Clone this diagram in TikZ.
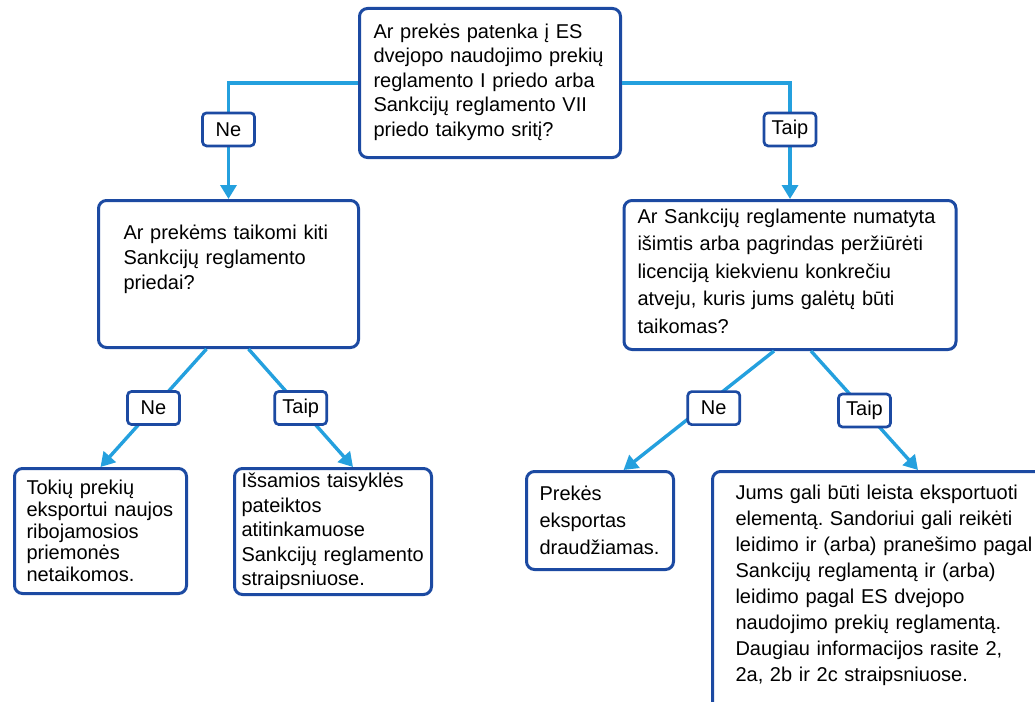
\documentclass[tikz,border=0pt]{standalone}
\usepackage{fontspec}
\setmainfont{Liberation Sans}
\frenchspacing
\usetikzlibrary{arrows.meta}
\definecolor{boxblue}{RGB}{28,74,162}
\definecolor{linkblue}{RGB}{36,160,222}
\tikzset{box/.style={draw=boxblue, line width=3pt, rounded corners=8pt, align=left, anchor=north west}}
\tikzset{bs/.style={font=\fontsize{20}{#1}\selectfont}}
\tikzset{ans/.style={draw=boxblue, line width=2.7pt, rounded corners=4pt, fill=white, minimum width=52pt, minimum height=33pt, inner sep=2pt, font=\fontsize{20}{24}\selectfont}}
\tikzset{link/.style={draw=linkblue, line width=3.4pt}}

\begin{document}
\begin{tikzpicture}[x=1pt, y=-1pt, >={Triangle[length=14pt,width=16pt]}]
          \useasboundingbox (0,0) rectangle (1035,701);
          \clip (0,0) rectangle (1035,701);
          % questions
          \node[box, bs=24.5, text width=233pt, inner xsep=14pt, minimum height=149pt, text depth=104pt] (root) at (358,7)
            {Ar prekės patenka į ES\\ dvejopo naudojimo prekių\\ reglamento I priedo arba\\ Sankcijų reglamento VII\\ priedo taikymo sritį?};
          \node[box, bs=25, text width=210pt, inner xsep=25pt, minimum height=147pt, text depth=84pt] (lq) at (97,199)
            {Ar prekėms taikomi kiti\\ Sankcijų reglamento\\ priedai?};
          \node[box, bs=27.5, text width=305pt, inner xsep=13.5pt, minimum height=149pt, text depth=118pt] (rq) at (622.5,199)
            {Ar Sankcijų reglamente numatyta\\ išimtis arba pagrindas peržiūrėti\\ licenciją kiekvienu konkrečiu\\ atveju, kuris jums galėtų būti\\ taikomas?};
          % outcomes
          \node[box, bs=21.7, text width=148pt, inner xsep=12pt, minimum height=125pt] (leaf1) at (13,467)
            {Tokių prekių\\ eksportui naujos\\ ribojamosios\\ priemonės\\ netaikomos.};
          \node[box, bs=24.6, text width=183pt, inner xsep=7pt, minimum height=126pt] (leaf2) at (233,467)
            {Išsamios taisyklės\\ pateiktos\\ atitinkamuose\\ Sankcijų reglamento\\ straipsniuose.};
          \node[box, bs=26.7, text width=121pt, inner xsep=13pt, minimum height=98pt] (leaf3) at (525,470)
            {Prekės\\ eksportas\\ draudžiamas.};
          \node[box, bs=26, text width=313pt, inner xsep=23pt, minimum height=250pt, text depth=208pt] (leaf4) at (711,470)
            {Jums gali būti leista eksportuoti\\ elementą. Sandoriui gali reikėti\\ leidimo ir (arba) pranešimo pagal\\ Sankcijų reglamentą ir (arba)\\ leidimo pagal ES dvejopo\\ naudojimo prekių reglamentą.\\ Daugiau informacijos rasite 2,\\ 2a, 2b ir 2c straipsniuose.};
          % connectors
          \draw[link, ->] (root.west) -| node[ans, pos=.7] (no1) {Ne} (lq.north);
          \draw[link, ->] (root.east) -| node[ans, pos=.7] (yes1) {Taip} (rq.north);
          \draw[link, ->] ([xshift=-22pt]lq.south) -- node[ans] (no2) {Ne} (leaf1.north);
          \draw[link, ->] ([xshift=20pt]lq.south) -- node[ans] (yes2) {Taip} ([xshift=20pt]leaf2.north);
          \draw[link, ->] ([xshift=-16pt]rq.south) -- node[ans, pos=.48, xshift=12pt] (no3) {Ne} ([xshift=23.5pt]leaf3.north);
          \draw[link, ->] ([xshift=21pt]rq.south) -- node[ans] (yes3) {Taip} ([xshift=207pt]leaf4.north west);
\end{tikzpicture}
\end{document}
